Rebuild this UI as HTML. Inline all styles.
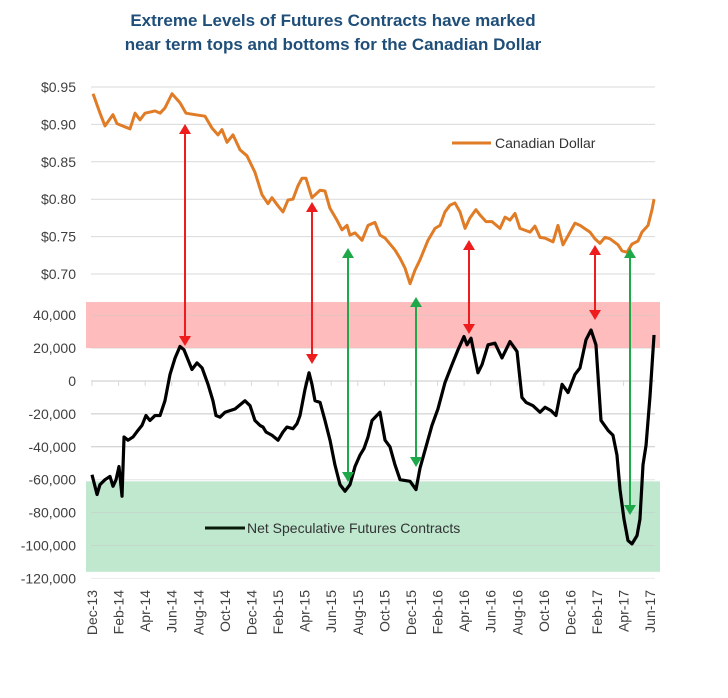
<!DOCTYPE html>
<html><head><meta charset="utf-8"><style>
body{margin:0;background:#fff;width:728px;height:698px;overflow:hidden;font-family:"Liberation Sans",sans-serif}
</style></head><body>
<svg id="c" width="728" height="698" style="position:absolute;left:0;top:0">
<text x="333" y="26" text-anchor="middle" font-size="17" font-weight="bold" fill="#1f4e79">Extreme Levels of Futures Contracts have marked</text>
<text x="333" y="50" text-anchor="middle" font-size="17" font-weight="bold" fill="#1f4e79">near term tops and bottoms for the Canadian Dollar</text>
</svg>
<script>
const cadMonths=[0.08,0.6,0.98,1.58,1.88,2.86,3.24,3.61,3.99,4.74,5.12,5.49,6.02,6.62,7.07,7.75,8.5,9.03,9.48,9.78,10.16,10.61,11.14,11.66,12.26,12.79,13.24,13.54,14.0,14.37,14.75,15.12,15.5,15.8,16.1,16.55,17.16,17.53,17.9,18.43,18.81,19.19,19.41,19.79,20.32,20.77,21.29,21.67,22.05,22.8,23.18,23.55,23.93,24.3,24.68,25.28,25.81,26.19,26.56,26.94,27.31,27.69,28.07,28.44,28.89,29.19,29.65,30.1,30.7,31.08,31.45,31.83,32.2,32.96,33.33,33.71,34.09,34.69,35.06,35.44,35.97,36.34,36.72,37.47,37.85,38.22,38.6,38.98,39.58,39.88,40.26,40.63,41.08,41.38,41.84,42.14,42.29];
const cadValues=[0.941,0.915,0.898,0.913,0.901,0.894,0.915,0.906,0.915,0.918,0.915,0.922,0.941,0.929,0.915,0.913,0.911,0.895,0.886,0.893,0.876,0.886,0.866,0.858,0.836,0.806,0.794,0.802,0.791,0.783,0.799,0.8,0.818,0.828,0.828,0.802,0.812,0.811,0.788,0.772,0.759,0.765,0.752,0.755,0.745,0.765,0.769,0.752,0.748,0.732,0.721,0.708,0.687,0.705,0.719,0.745,0.761,0.765,0.783,0.792,0.795,0.783,0.761,0.775,0.786,0.779,0.77,0.77,0.761,0.776,0.772,0.781,0.761,0.756,0.764,0.749,0.748,0.743,0.765,0.739,0.756,0.768,0.765,0.756,0.747,0.741,0.749,0.747,0.739,0.731,0.729,0.74,0.744,0.756,0.765,0.786,0.8];
const futMonths=[0,0.38,0.6,0.98,1.35,1.58,1.81,2.03,2.26,2.41,2.71,3.09,3.46,3.76,4.06,4.36,4.74,5.12,5.49,5.87,6.25,6.62,6.92,7.22,7.52,7.9,8.28,8.73,9.1,9.33,9.63,10.01,10.38,10.76,11.51,11.89,12.26,12.64,12.87,13.09,13.54,14.0,14.37,14.67,15.12,15.42,15.65,16.03,16.33,16.55,16.78,17.16,17.53,17.91,18.28,18.66,19.04,19.41,19.79,20.17,20.47,20.77,21.07,21.67,22.05,22.42,22.8,23.18,23.93,24.38,24.68,25.13,25.58,26.03,26.56,27.09,27.54,27.99,28.22,28.52,29.04,29.35,29.8,30.32,30.85,31.45,31.98,32.35,32.66,33.18,33.71,34.09,34.54,34.91,35.37,35.82,36.34,36.72,37.17,37.55,37.92,38.3,38.83,39.2,39.5,39.73,40.03,40.33,40.63,41.01,41.23,41.46,41.69,41.99,42.29];
const futValues=[-57,-69,-63,-60,-58,-64,-60,-52,-70,-34,-36,-34,-30,-27,-21,-24,-21,-21,-12,4,14,21,19,13,7,11,8,-2,-12,-21,-22,-19,-18,-17,-12,-15,-24,-27,-28,-31,-33,-36,-31,-28,-29,-26,-21,-5,5,-2,-12,-13,-24,-36,-51,-63,-67,-63,-52,-45,-41,-34,-24,-19,-36,-40,-51,-60,-61,-66,-53,-40,-27,-17,-1,10,19,27,22,26,5,10,22,23,14,24,18,-10,-13,-15,-19,-16,-18,-21,-2,-7,4,8,25,31,22,-24,-30,-33,-45,-66,-84,-97,-99,-94,-84,-51,-39,-9,28].map(v=>v*1000);
const cadTicks=[0.95,0.90,0.85,0.80,0.75,0.70];
const futTicks=[40000,20000,0,-20000,-40000,-60000,-80000,-100000,-120000];
const xLabels=["Dec-13","Feb-14","Apr-14","Jun-14","Aug-14","Oct-14","Dec-14","Feb-15","Apr-15","Jun-15","Aug-15","Oct-15","Dec-15","Feb-16","Apr-16","Jun-16","Aug-16","Oct-16","Dec-16","Feb-17","Apr-17","Jun-17"];
const redBand=[48000,20000];
const greenBand=[-61000,-116000];

const svg=document.getElementById('c');
const NS='http://www.w3.org/2000/svg';
const X0=91,X1=655;
const xm=m=>92+m*13.29;
const yc=v=>87+(0.95-v)/0.05*37.4;
const yf=v=>381-v/20000*32.9;
function mk(t,a,p){const e=document.createElementNS(NS,t);for(const k in a)e.setAttribute(k,a[k]);(p||svg).appendChild(e);return e;}

let r=mk('rect',{x:86,y:yf(redBand[0]),width:574,height:yf(redBand[1])-yf(redBand[0]),fill:'#ffbcbc'});


let g=mk('rect',{x:86,y:yf(greenBand[0]),width:574,height:yf(greenBand[1])-yf(greenBand[0]),fill:'#bfe8cf'});



cadTicks.forEach(v=>{
  let l=mk('line',{x1:X0,x2:X1,y1:yc(v),y2:yc(v),stroke:'#d9d9d9','stroke-width':1});
  
  
  let t=mk('text',{x:76,y:yc(v)+5,'text-anchor':'end','font-size':14,fill:'#404040'});
  t.textContent='$'+v.toFixed(2);
  
  
});
futTicks.forEach(v=>{
  let l=mk('line',{x1:X0,x2:X1,y1:yf(v),y2:yf(v),stroke:v===-120000?'#d9d9d9':'#c8c8c8','stroke-width':1,'stroke-opacity':v>=20000||v<=-60000?0.5:1});
  
  
  let t=mk('text',{x:76,y:yf(v)+5,'text-anchor':'end','font-size':14,fill:'#404040'});
  t.textContent=v.toLocaleString('en-US');
  
  
});
xLabels.forEach((s,i)=>{
  const x=xm(i*2);
  let tk=mk('line',{x1:x,x2:x,y1:381,y2:386,stroke:'#d9d9d9'});
  
  
  let t=mk('text',{x:0,y:0,'text-anchor':'end','font-size':14,fill:'#404040',transform:`translate(${x+5},590) rotate(-90)`});
  t.textContent=s;
  
  
});

let p1=mk('polyline',{points:cadMonths.map((m,i)=>xm(m)+','+yc(cadValues[i])).join(' '),fill:'none',stroke:'#e07b26','stroke-width':3,'stroke-linejoin':'round'});


let p2=mk('polyline',{points:futMonths.map((m,i)=>xm(m)+','+yf(futValues[i])).join(' '),fill:'none',stroke:'#000','stroke-width':3.2,'stroke-linejoin':'round'});



function arrow(x,y1,y2,c,name){
  const grp=mk('g',{});
  
  
  mk('line',{x1:x,x2:x,y1:y1+8,y2:y2-8,stroke:c,'stroke-width':2},grp);
  mk('polygon',{points:`${x-6},${y1+10} ${x+6},${y1+10} ${x},${y1}`,fill:c},grp);
  mk('polygon',{points:`${x-6},${y2-10} ${x+6},${y2-10} ${x},${y2}`,fill:c},grp);
}
arrow(185,124,346,'#ee1c1c','red-arrow-jun14');
arrow(312,202,364,'#ee1c1c','red-arrow-apr15');
arrow(469,240,334,'#ee1c1c','red-arrow-apr16');
arrow(595,245,320,'#ee1c1c','red-arrow-feb17');
arrow(348,248,482,'#1ea84a','green-arrow-aug15');
arrow(416,297,467,'#1ea84a','green-arrow-dec15');
arrow(630,248,515,'#1ea84a','green-arrow-may17');

let lg1=mk('line',{x1:452,x2:491,y1:143,y2:143,stroke:'#e07b26','stroke-width':3});


let lt1=mk('text',{x:495,y:148,'font-size':14,fill:'#333'});
lt1.textContent='Canadian Dollar';


let lg2=mk('line',{x1:205,x2:245,y1:528,y2:528,stroke:'#0a1a0a','stroke-width':3});


let lt2=mk('text',{x:247,y:533,'font-size':14,fill:'#333'});
lt2.textContent='Net Speculative Futures Contracts';


</script>
</body></html>
